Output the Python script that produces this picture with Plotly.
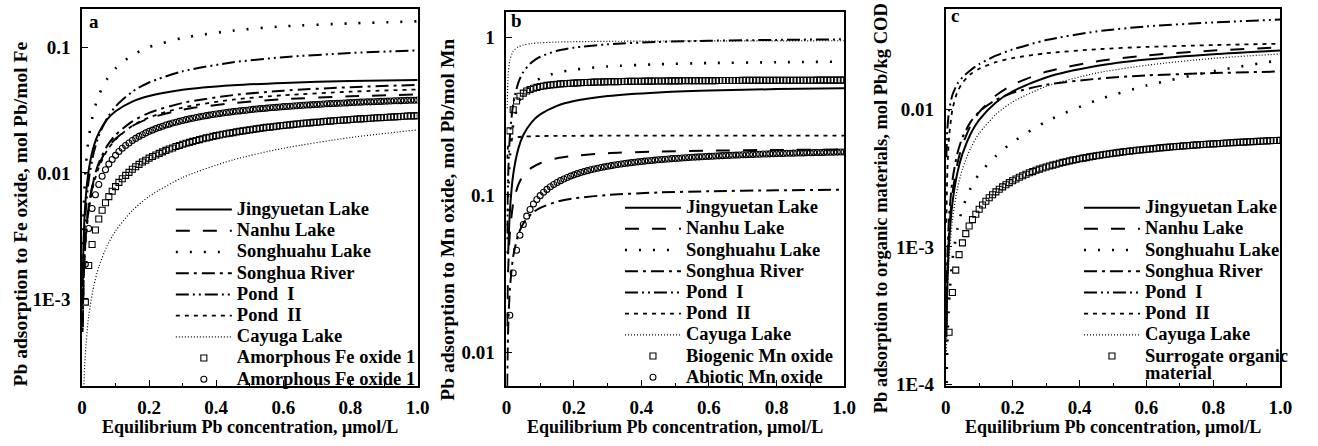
import plotly.graph_objects as go

W, H = 1318, 446
FONT = "Liberation Serif, Times New Roman, serif"

# ---------------- data ----------------
X_LINE = [0.002, 0.005, 0.01, 0.02, 0.035, 0.05, 0.075, 0.1, 0.15, 0.2, 0.3, 0.45, 0.6, 0.8, 1.0]

X_MARK = [0.01, 0.02, 0.03, 0.04, 0.05, 0.06, 0.07, 0.08, 0.09, 0.10,
          0.11, 0.12, 0.13, 0.14, 0.15, 0.16, 0.17, 0.18, 0.19, 0.20,
          0.21, 0.22, 0.23, 0.24, 0.25, 0.26, 0.27, 0.28, 0.29, 0.30,
          0.31, 0.32, 0.33, 0.34, 0.35, 0.36, 0.37, 0.38, 0.39, 0.40,
          0.41, 0.42, 0.43, 0.44, 0.45, 0.46, 0.47, 0.48, 0.49, 0.50,
          0.51, 0.52, 0.53, 0.54, 0.55, 0.56, 0.57, 0.58, 0.59, 0.60,
          0.61, 0.62, 0.63, 0.64, 0.65, 0.66, 0.67, 0.68, 0.69, 0.70,
          0.71, 0.72, 0.73, 0.74, 0.75, 0.76, 0.77, 0.78, 0.79, 0.80,
          0.81, 0.82, 0.83, 0.84, 0.85, 0.86, 0.87, 0.88, 0.89, 0.90,
          0.91, 0.92, 0.93, 0.94, 0.95, 0.96, 0.97, 0.98, 0.99, 1.00]

SERIES_NAMES = ["Jingyuetan Lake", "Nanhu Lake", "Songhuahu Lake", "Songhua River",
                "Pond\u00a0\u00a0I", "Pond\u00a0\u00a0II", "Cayuga Lake"]

# panel a: Fe oxide (mol Pb/mol Fe)
A_JINGYUETAN = [0.00125, 0.00303, 0.00577, 0.0105, 0.0163, 0.0208, 0.0266, 0.0309, 0.0369, 0.0408, 0.0457, 0.0496, 0.0519, 0.0537, 0.0548]
A_NANHU = [0.000601, 0.00148, 0.00287, 0.00541, 0.00875, 0.0116, 0.0156, 0.0187, 0.0236, 0.0271, 0.0318, 0.0359, 0.0385, 0.0406, 0.042]
A_SONGHUAHU = [0.00209, 0.00514, 0.0100, 0.0190, 0.0309, 0.0413, 0.0558, 0.0677, 0.0862, 0.0997, 0.118, 0.135, 0.146, 0.154, 0.160]
A_SONGHUA_RIVER = [0.000594, 0.00146, 0.00286, 0.00546, 0.00894, 0.012, 0.0164, 0.02, 0.0257, 0.03, 0.036, 0.0415, 0.045, 0.048, 0.05]
A_POND1 = [0.000937, 0.00232, 0.00454, 0.00874, 0.0145, 0.0197, 0.0272, 0.0337, 0.0442, 0.0523, 0.0642, 0.0756, 0.083, 0.0896, 0.094]
A_POND2 = [0.000546, 0.00135, 0.00263, 0.00502, 0.00822, 0.011, 0.0151, 0.0184, 0.0237, 0.0276, 0.0331, 0.0382, 0.0414, 0.0442, 0.046]
A_CAYUGA = [7.4e-05, 0.000184, 0.000367, 0.00073, 0.00126, 0.00179, 0.00264, 0.00346, 0.00503, 0.00651, 0.0092, 0.0127, 0.0157, 0.0191, 0.022]
A_MARK_NAMES = ["Amorphous Fe oxide 1", "Amorphous Fe oxide 1"]
A_SQUARES = [0.000942, 0.00184, 0.0027, 0.00352, 0.00431, 0.00506, 0.00579, 0.00648, 0.00715, 0.00779,
             0.00841, 0.009, 0.00957, 0.0101, 0.0107, 0.0112, 0.0117, 0.0122, 0.0126, 0.0131,
             0.0135, 0.0139, 0.0143, 0.0147, 0.0151, 0.0155, 0.0158, 0.0162, 0.0165, 0.0169,
             0.0172, 0.0175, 0.0178, 0.0181, 0.0184, 0.0187, 0.019, 0.0192, 0.0195, 0.0198,
             0.02, 0.0203, 0.0205, 0.0207, 0.0209, 0.0212, 0.0214, 0.0216, 0.0218, 0.022,
             0.0222, 0.0224, 0.0226, 0.0228, 0.023, 0.0231, 0.0233, 0.0235, 0.0237, 0.0238,
             0.024, 0.0241, 0.0243, 0.0245, 0.0246, 0.0248, 0.0249, 0.025, 0.0252, 0.0253,
             0.0254, 0.0256, 0.0257, 0.0258, 0.026, 0.0261, 0.0262, 0.0263, 0.0264, 0.0266,
             0.0267, 0.0268, 0.0269, 0.027, 0.0271, 0.0272, 0.0273, 0.0274, 0.0275, 0.0276,
             0.0277, 0.0278, 0.0279, 0.028, 0.0281, 0.0282, 0.0283, 0.0284, 0.0284, 0.0285]
A_CIRCLES = [0.00188, 0.00362, 0.00522, 0.00671, 0.0081, 0.0094, 0.0106, 0.01175, 0.0128, 0.0138,
             0.0148, 0.0157, 0.0165, 0.0173, 0.0181, 0.0188, 0.0195, 0.0201, 0.0208, 0.0214,
             0.0219, 0.0225, 0.023, 0.0235, 0.024, 0.0244, 0.0249, 0.0253, 0.0257, 0.0261,
             0.0265, 0.0269, 0.0272, 0.0276, 0.0279, 0.0282, 0.0285, 0.0288, 0.0291, 0.0294,
             0.0296, 0.0299, 0.0302, 0.0304, 0.0307, 0.0309, 0.0311, 0.0313, 0.0315, 0.0318,
             0.032, 0.0322, 0.0324, 0.0325, 0.0327, 0.0329, 0.0331, 0.0332, 0.0334, 0.0336,
             0.0337, 0.0339, 0.034, 0.0342, 0.0343, 0.0345, 0.0346, 0.0347, 0.0349, 0.035,
             0.0351, 0.0353, 0.0354, 0.0355, 0.0356, 0.0357, 0.0358, 0.0359, 0.036, 0.0362,
             0.0363, 0.0364, 0.0365, 0.0366, 0.0367, 0.0367, 0.0368, 0.0369, 0.037, 0.0371,
             0.0372, 0.0373, 0.0374, 0.0374, 0.0375, 0.0376, 0.0377, 0.0378, 0.0378, 0.0379]

# panel b: Mn oxide (mol Pb/mol Mn)
B_JINGYUETAN = [None, 0.0421, 0.0777, 0.1345, 0.196, 0.24, 0.29, 0.324, 0.3675, 0.394, 0.424, 0.447, 0.459, 0.469, 0.475]
B_NANHU = [0.0147, 0.0332, 0.0569, 0.0884, 0.116, 0.133, 0.149, 0.159, 0.171, 0.177, 0.184, 0.1885, 0.191, 0.193, 0.194]
B_SONGHUAHU = [0.0427, 0.0981, 0.173, 0.279, 0.378, 0.441, 0.507, 0.548, 0.596, 0.623, 0.653, 0.674, 0.686, 0.694, 0.70]
B_SONGHUA_RIVER = [0.00609, 0.0141, 0.025, 0.0408, 0.0561, 0.0659, 0.0764, 0.0829, 0.0907, 0.0952, 0.100, 0.1037, 0.1056, 0.1071, 0.108]
B_POND1 = [0.0569, 0.131, 0.232, 0.377, 0.514, 0.602, 0.695, 0.752, 0.820, 0.859, 0.902, 0.933, 0.950, 0.962, 0.970]
B_POND2 = [0.170, 0.205, 0.221, 0.229, 0.233, 0.2344, 0.2357, 0.2363, 0.2369, 0.2372, 0.2376, 0.2378, 0.2379, 0.238, 0.238]
B_CAYUGA = [0.355, 0.569, 0.713, 0.816, 0.869, 0.893, 0.912, 0.922, 0.932, 0.937, 0.942, 0.946, 0.948, 0.949, 0.950]
B_MARK_NAMES = ["Biogenic Mn oxide", "Abiotic Mn oxide"]
B_SQUARES = [0.255, 0.347, 0.394, 0.423, 0.442, 0.456, 0.466, 0.475, 0.481, 0.487,
             0.491, 0.495, 0.498, 0.501, 0.503, 0.506, 0.508, 0.509, 0.511, 0.512,
             0.514, 0.515, 0.516, 0.517, 0.518, 0.519, 0.52, 0.52, 0.521, 0.522,
             0.522, 0.523, 0.523, 0.524, 0.524, 0.525, 0.525, 0.526, 0.526, 0.526,
             0.527, 0.527, 0.527, 0.528, 0.528, 0.528, 0.528, 0.529, 0.529, 0.529,
             0.529, 0.53, 0.53, 0.53, 0.53, 0.53, 0.531, 0.531, 0.531, 0.531,
             0.531, 0.531, 0.532, 0.532, 0.532, 0.532, 0.532, 0.532, 0.532, 0.533,
             0.533, 0.533, 0.533, 0.533, 0.533, 0.533, 0.533, 0.533, 0.533, 0.534,
             0.534, 0.534, 0.534, 0.534, 0.534, 0.534, 0.534, 0.534, 0.534, 0.534,
             0.534, 0.535, 0.535, 0.535, 0.535, 0.535, 0.535, 0.535, 0.535, 0.535]
B_CIRCLES = [0.0173, 0.032, 0.0446, 0.0555, 0.065, 0.0734, 0.0809, 0.0876, 0.0936, 0.099,
             0.104, 0.1085, 0.1127, 0.1165, 0.12, 0.1233, 0.1263, 0.1291, 0.1317, 0.1342,
             0.1365, 0.1387, 0.1407, 0.1426, 0.1444, 0.1462, 0.1478, 0.1493, 0.1508, 0.1522,
             0.1535, 0.1548, 0.156, 0.1572, 0.1583, 0.1593, 0.1603, 0.1613, 0.1622, 0.1631,
             0.164, 0.1648, 0.1656, 0.1664, 0.1671, 0.1679, 0.1686, 0.1692, 0.1699, 0.1705,
             0.1711, 0.1717, 0.1723, 0.1728, 0.1733, 0.1739, 0.1744, 0.1748, 0.1753, 0.1758,
             0.1762, 0.1767, 0.1771, 0.1775, 0.1779, 0.1783, 0.1787, 0.179, 0.1794, 0.1798,
             0.1801, 0.1804, 0.1808, 0.1811, 0.1814, 0.1817, 0.182, 0.1823, 0.1826, 0.1829,
             0.1831, 0.1834, 0.1837, 0.1839, 0.1842, 0.1844, 0.1847, 0.1849, 0.1851, 0.1854,
             0.1856, 0.1858, 0.186, 0.1862, 0.1864, 0.1866, 0.1868, 0.187, 0.1872, 0.1874]

# panel c: organic materials (mol Pb/kg COD)
C_JINGYUETAN = [0.000219, 0.000543, 0.00107, 0.00208, 0.00348, 0.00477, 0.00671, 0.00842, 0.0113, 0.0136, 0.0172, 0.0208, 0.0232, 0.0254, 0.027]
C_NANHU = [0.000259, 0.00064, 0.00126, 0.00243, 0.00405, 0.00553, 0.00771, 0.0096, 0.0127, 0.0152, 0.0189, 0.0225, 0.0249, 0.027, 0.0285]
C_SONGHUAHU = [0.00008, 0.0002, 0.0004, 0.0008, 0.00135, 0.0019, 0.0027, 0.0034, 0.0046, 0.0058, 0.0082, 0.0117, 0.0150, 0.0191, 0.0230]
C_SONGHUA_RIVER = [0.000349, 0.000852, 0.00164, 0.00304, 0.00481, 0.00627, 0.00819, 0.00968, 0.0118, 0.0133, 0.0152, 0.0168, 0.0178, 0.0185, 0.019]
C_POND1 = [0.0045, 0.0072, 0.0098, 0.0128, 0.0155, 0.0172, 0.0195, 0.0215, 0.0248, 0.0275, 0.0322, 0.0372, 0.0405, 0.0433, 0.0455]
C_POND2 = [0.0015, 0.0036, 0.0063, 0.0100, 0.0135, 0.0157, 0.0182, 0.0199, 0.0222, 0.0238, 0.0258, 0.0276, 0.0287, 0.0296, 0.0303]
C_CAYUGA = [0.000164, 0.000407, 0.000804, 0.00157, 0.00267, 0.0037, 0.00529, 0.00673, 0.00925, 0.0114, 0.0148, 0.0185, 0.0211, 0.0237, 0.0255]
C_MARK_NAMES = ["Surrogate organic"]
C_MARK_NAME_CONT = "material"
C_SQUARES = [0.000239, 0.000465, 0.000677, 0.000878, 0.00107, 0.00125, 0.00142, 0.00158, 0.00173, 0.00188,
             0.00202, 0.00215, 0.00228, 0.0024, 0.00252, 0.00263, 0.00274, 0.00284, 0.00294, 0.00304,
             0.00313, 0.00322, 0.0033, 0.00339, 0.00347, 0.00354, 0.00362, 0.00369, 0.00376, 0.00382,
             0.00389, 0.00395, 0.00401, 0.00407, 0.00413, 0.00418, 0.00424, 0.00429, 0.00434, 0.00439,
             0.00444, 0.00448, 0.00453, 0.00457, 0.00462, 0.00466, 0.0047, 0.00474, 0.00478, 0.00482,
             0.00485, 0.00489, 0.00493, 0.00496, 0.00499, 0.00503, 0.00506, 0.00509, 0.00512, 0.00515,
             0.00518, 0.00521, 0.00524, 0.00527, 0.00529, 0.00532, 0.00535, 0.00537, 0.0054, 0.00542,
             0.00545, 0.00547, 0.00549, 0.00552, 0.00554, 0.00556, 0.00558, 0.0056, 0.00562, 0.00564,
             0.00566, 0.00568, 0.0057, 0.00572, 0.00574, 0.00576, 0.00578, 0.00579, 0.00581, 0.00583,
             0.00585, 0.00586, 0.00588, 0.00589, 0.00591, 0.00593, 0.00594, 0.00596, 0.00597, 0.00599]

X_TICKS = [0, 0.2, 0.4, 0.6, 0.8, 1.0]
X_TICK_TEXT = ["0", "0.2", "0.4", "0.6", "0.8", "1.0"]
A_Y_TICKS = [0.001, 0.01, 0.1]
A_Y_TICK_TEXT = ["1E-3", "0.01", "0.1"]
B_Y_TICKS = [0.01, 0.1, 1]
B_Y_TICK_TEXT = ["0.01", "0.1", "1"]
C_Y_TICKS = [0.0001, 0.001, 0.01]
C_Y_TICK_TEXT = ["1E-4", "1E-3", "0.01"]

X_TITLE = "Equilibrium Pb concentration, \u03bcmol/L"
Y_TITLES = ["Pb adsorption to Fe oxide, mol Pb/mol Fe",
            "Pb adsorption to Mn oxide, mol Pb/mol Mn",
            "Pb adsorption to organic materials, mol Pb/kg COD"]
PANEL_LETTERS = ["a", "b", "c"]

# ---------------- styles ----------------
LINE_STYLES = [
    dict(dash="solid", width=2.0),
    dict(dash="14px,13px", width=2.0),
    dict(dash="2px,12px", width=2.6),
    dict(dash="13px,5px,3px,5px", width=2.0),
    dict(dash="13px,4px,2px,4px,2px,4px", width=2.0),
    dict(dash="4px,5px", width=1.8),
    dict(dash="1px,2px", width=1.2),
]
LEG_PX = 18.5


def leg(t):
    return '<span style="font-size:%spx">%s</span>' % (LEG_PX, t)


panels = [
    dict(lines=[A_JINGYUETAN, A_NANHU, A_SONGHUAHU, A_SONGHUA_RIVER, A_POND1, A_POND2, A_CAYUGA],
         marks=[A_SQUARES, A_CIRCLES], mnames=A_MARK_NAMES, msyms=["square-open", "circle-open"],
         xd=[78, 418], yt=9, yb=394, yr=[-3.6926, -0.6965], yticks=A_Y_TICKS, ytext=A_Y_TICK_TEXT,
         leg_left=168, leg_top=198, ytitle_x=16, ytitle_y=218, ytitle_size=19.5, letter=(90, 22)),
    dict(lines=[B_JINGYUETAN, B_NANHU, B_SONGHUAHU, B_SONGHUA_RIVER, B_POND1, B_POND2, B_CAYUGA],
         marks=[B_SQUARES, B_CIRCLES], mnames=B_MARK_NAMES, msyms=["square-open", "circle-open"],
         xd=[508, 850], yt=12, yb=394, yr=[-2.2112, 0.1615], yticks=B_Y_TICKS, ytext=B_Y_TICK_TEXT,
         leg_left=623, leg_top=196, ytitle_x=448, ytitle_y=224, ytitle_size=19.5, letter=(518, 21)),
    dict(lines=[C_JINGYUETAN, C_NANHU, C_SONGHUAHU, C_SONGHUA_RIVER, C_POND1, C_POND2, C_CAYUGA],
         marks=[C_SQUARES], mnames=C_MARK_NAMES, msyms=["square-open"],
         xd=[953, 1292], yt=9, yb=394, yr=[-4.0143, -1.2643], yticks=C_Y_TICKS, ytext=C_Y_TICK_TEXT,
         leg_left=1088, leg_top=196, ytitle_x=887, ytitle_y=213, ytitle_size=18.5, letter=(962, 16)),
]

fig = go.Figure()
layout = dict(width=W, height=H, margin=dict(l=0, r=0, t=0, b=0),
              paper_bgcolor="white", plot_bgcolor="white", showlegend=True,
              font=dict(family=FONT, color="black"))
annotations = []

for i, p in enumerate(panels):
    sfx = "" if i == 0 else str(i + 1)
    xa, ya, lg = "x" + sfx, "y" + sfx, "legend" + sfx
    for name, ys, st in zip(SERIES_NAMES, p["lines"], LINE_STYLES):
        fig.add_trace(go.Scatter(x=X_LINE, y=ys, mode="lines", name=leg(name),
                                 xaxis=xa, yaxis=ya, legend=lg,
                                 line=dict(color="black", width=st["width"], dash=st["dash"],
                                           shape="spline", smoothing=0.7),
                                 hoverinfo="skip"))
    for name, ys, sym in zip(p["mnames"], p["marks"], p["msyms"]):
        fig.add_trace(go.Scatter(x=X_MARK, y=ys, mode="markers", name=leg(name),
                                 xaxis=xa, yaxis=ya, legend=lg,
                                 marker=dict(symbol=sym, size=6, color="black",
                                             line=dict(width=1.1, color="black")),
                                 hoverinfo="skip"))
    tickfont = dict(family=FONT, size=19, color="black", weight="bold")
    layout["xaxis" + sfx] = dict(
        domain=[p["xd"][0] / W, p["xd"][1] / W], anchor=ya, range=[0, 1.0],
        tickvals=X_TICKS, ticktext=X_TICK_TEXT, ticks="inside", ticklen=6, tickwidth=1.3,
        tickcolor="black", minor=dict(dtick=0.1, ticks="inside", ticklen=3, tickwidth=1.2, tickcolor="black"),
        showline=True, linecolor="black", linewidth=1.6, mirror=True, showgrid=False,
        zeroline=False, tickfont=tickfont, ticklabelstandoff=3)
    layout["yaxis" + sfx] = dict(
        domain=[1 - p["yb"] / H, 1 - p["yt"] / H], anchor=xa, type="log", range=p["yr"],
        tickvals=p["yticks"], ticktext=p["ytext"], ticks="inside", ticklen=6, tickwidth=1.3,
        tickcolor="black", showline=True, linecolor="black", linewidth=1.6, mirror=True,
        showgrid=False, zeroline=False, tickfont=tickfont, ticklabelstandoff=6)
    layout[lg] = dict(x=p["leg_left"] / W, y=1 - p["leg_top"] / H, xanchor="left", yanchor="top",
                      bgcolor="rgba(0,0,0,0)", borderwidth=0, itemwidth=56, tracegroupgap=0,
                      valign="middle", traceorder="normal",
                      font=dict(family=FONT, size=14, color="black", weight="bold"))
    annotations.append(dict(text=X_TITLE, xref="paper", yref="paper",
                            x=(p["xd"][0] + p["xd"][1]) / 2 / W, y=1 - 436 / H,
                            xanchor="center", yanchor="middle", showarrow=False,
                            font=dict(family=FONT, size=18, color="black", weight="bold")))
    annotations.append(dict(text=Y_TITLES[i], xref="paper", yref="paper",
                            x=p["ytitle_x"] / W, y=1 - p["ytitle_y"] / H, textangle=-90,
                            xanchor="center", yanchor="middle", showarrow=False,
                            font=dict(family=FONT, size=p["ytitle_size"], color="black", weight="bold")))
    annotations.append(dict(text=PANEL_LETTERS[i], xref="paper", yref="paper",
                            x=p["letter"][0] / W, y=1 - p["letter"][1] / H,
                            xanchor="center", yanchor="middle", showarrow=False,
                            font=dict(family=FONT, size=19, color="black", weight="bold")))

# continuation line of the last legend entry of panel c
annotations.append(dict(text=C_MARK_NAME_CONT, xref="paper", yref="paper",
                        x=1154 / W, y=1 - 381 / H, xanchor="left", yanchor="middle",
                        showarrow=False, borderpad=0,
                        font=dict(family=FONT, size=LEG_PX, color="black", weight="bold")))

layout["annotations"] = annotations
fig.update_layout(**layout)
fig.write_html("out.html")
